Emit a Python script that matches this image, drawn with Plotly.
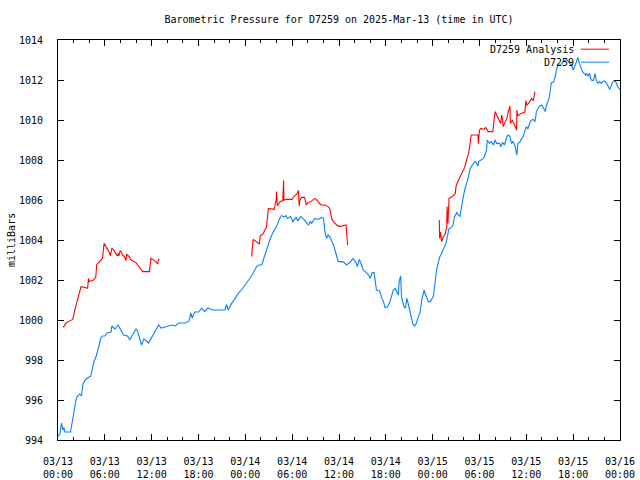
import pandas as pd
import plotly.graph_objects as go

# ---- data (hours after 2025-03-13 00:00 UTC, pressure in mb) ----
base_time = "2025-03-13 00:00"

obs_hours = [0.0, 0.25, 0.45, 0.6, 0.75, 0.9, 1.6, 1.8, 2.0, 2.3, 2.5, 2.8, 3.0, 3.2, 3.6, 4.0, 4.2, 4.45, 4.6, 4.9,
             5.3, 5.5, 5.7, 6.0, 6.3, 6.8, 6.9, 7.3, 7.7, 7.9, 8.4, 8.9, 9.2, 9.6, 10.0, 10.2, 10.4, 10.7, 11.0, 11.2,
             11.6, 12.1, 12.5, 12.9, 13.2, 13.8, 14.3, 14.6, 15.0, 15.5, 16.3, 16.8, 17.0, 17.2, 17.5, 18.0, 18.4, 18.8,
             19.2, 19.8, 21.4, 21.6, 21.8, 22.25, 22.7, 23.1, 23.5, 24.0, 24.4, 24.8, 25.0, 25.45, 25.7, 26.1, 26.3,
             26.7, 27.2, 27.6, 28.0, 28.4, 28.6, 29.0, 29.2, 29.4, 29.8, 30.1, 30.5, 30.7, 30.9, 31.1, 31.5, 32.1,
             32.3, 32.5, 32.9, 33.3, 33.8, 34.0, 34.2, 34.4, 34.6, 34.8, 35.3, 35.7, 35.9, 36.5, 37.0, 37.2, 37.4,
             37.8, 38.2, 38.35, 38.6, 38.9, 39.1, 39.5, 39.8, 40.0, 40.25, 40.5, 40.6, 40.8, 41.0, 41.2, 41.5, 41.7,
             41.9, 42.2, 42.5, 42.7, 42.96, 43.2, 43.4, 43.6, 43.7, 43.9, 44.0, 44.3, 44.5, 44.7, 44.9, 45.1, 45.3,
             45.5, 45.7, 45.9, 46.1, 46.4, 46.6, 46.9, 47.1, 47.45, 47.7, 47.9, 48.1, 48.3, 48.5, 48.7, 48.9, 49.1,
             49.4, 49.7, 49.9, 50.1, 50.3, 50.6, 50.8, 51.1, 51.3, 51.5, 51.7, 51.9, 52.1, 52.35, 52.6, 52.8, 53.0,
             53.2, 53.4, 53.6, 53.8, 53.9, 54.3, 54.5, 54.7, 54.9, 55.0, 55.3, 55.5, 55.8, 56.0, 56.2, 56.6, 56.7,
             57.0, 57.2, 57.5, 57.7, 57.9, 58.1, 58.3, 58.5, 58.7, 58.8, 58.9, 59.2, 59.4, 59.6, 59.8, 60.0, 60.2,
             60.5, 60.7, 60.9, 61.1, 61.3, 61.5, 61.7, 62.0, 62.2, 62.4, 62.6, 62.9, 63.05, 63.2, 63.5, 63.7, 63.9,
             64.1, 64.4, 64.7, 65.2, 65.5, 65.8, 66.0, 66.2, 66.4, 66.6, 66.8, 67.0, 67.2, 67.4, 67.6, 67.7, 67.9,
             68.1, 68.3, 68.6, 68.8, 69.0, 69.2, 69.4, 69.6, 69.8, 70.0, 70.3, 70.5, 70.7, 70.9, 71.1, 71.3, 71.5,
             71.7, 72.0]
obs_mb = [994.2, 994.3, 994.85, 994.55, 994.6, 994.4, 994.4, 994.8, 995.3, 996.0, 996.2, 996.3, 996.2, 996.8, 997.05,
          997.15, 997.2, 997.65, 997.9, 998.2, 998.85, 999.1, 999.2, 999.2, 999.35, 999.4, 999.7, 999.55, 999.75,
          999.6, 999.25, 999.2, 999.0, 999.3, 999.55, 999.45, 999.2, 998.75, 999.05, 999.0, 998.85, 999.2, 999.5,
          999.75, 999.6, 999.65, 999.7, 999.75, 999.7, 999.85, 999.85, 999.95, 1000.35, 1000.1, 1000.4, 1000.4,
          1000.58, 1000.42, 1000.6, 1000.5, 1000.5, 1000.78, 1000.5, 1000.83, 1001.08, 1001.33, 1001.5, 1001.75,
          1001.95, 1002.2, 1002.35, 1002.67, 1002.75, 1002.75, 1003.0, 1003.5, 1004.08, 1004.42, 1004.67, 1005.08,
          1005.22, 1005.15, 1005.22, 1005.08, 1005.17, 1004.92, 1005.13, 1004.97, 1005.08, 1005.17, 1005.03,
          1004.75, 1004.92, 1004.83, 1005.08, 1005.03, 1005.13, 1005.08, 1004.42, 1004.08, 1004.25, 1004.17,
          1003.75, 1003.25, 1002.92, 1002.92, 1002.75, 1002.83, 1002.87, 1003.08, 1002.85, 1002.67, 1003.03,
          1002.75, 1002.5, 1002.37, 1002.25, 1002.08, 1002.37, 1002.37, 1002.0, 1001.5, 1001.47, 1001.45, 1001.08,
          1000.92, 1000.62, 1000.65, 1000.87, 1001.13, 1001.5, 1001.58, 1001.37, 1001.25, 1001.92, 1002.2, 1001.17,
          1000.7, 1000.58, 1001.08, 1000.75, 1000.42, 1000.0, 999.75, 999.7, 999.83, 1000.08, 1000.42, 1001.0,
          1001.5, 1001.25, 1000.92, 1000.92, 1001.08, 1001.2, 1001.83, 1002.5, 1002.83, 1003.15, 1003.3, 1003.58,
          1003.83, 1004.2, 1004.58, 1004.6, 1004.75, 1005.17, 1005.37, 1005.25, 1005.17, 1005.67, 1006.17, 1006.5,
          1006.83, 1007.17, 1007.58, 1007.7, 1007.83, 1007.92, 1007.87, 1007.7, 1007.92, 1008.0, 1008.08, 1008.25,
          1008.5, 1009.0, 1008.83, 1008.92, 1008.75, 1009.0, 1008.83, 1008.83, 1008.67, 1008.87, 1008.75, 1009.17,
          1009.25, 1009.17, 1008.83, 1008.92, 1008.75, 1008.42, 1008.25, 1008.8, 1008.92, 1009.08, 1009.17,
          1009.42, 1009.67, 1009.55, 1009.92, 1010.0, 1010.03, 1009.92, 1010.42, 1010.58, 1010.7, 1010.75, 1010.55,
          1010.42, 1010.75, 1011.08, 1011.42, 1011.87, 1011.9, 1012.17, 1012.58, 1012.75, 1012.75, 1012.92,
          1013.03, 1012.85, 1012.75, 1012.5, 1012.67, 1012.92, 1013.13, 1012.83, 1012.58, 1012.42, 1012.33,
          1012.25, 1012.33, 1012.2, 1012.33, 1012.0, 1011.97, 1012.33, 1011.92, 1011.83, 1011.92, 1011.83,
          1011.92, 1011.95, 1011.83, 1011.63, 1011.53, 1011.75, 1011.92, 1011.97, 1011.87, 1011.67, 1011.53]

ana_hours_1 = [0.68, 1.0, 1.3, 1.67, 1.9, 2.1, 2.3, 2.5, 2.75, 2.95, 3.2, 3.6, 3.8, 3.9, 4.0, 4.4, 4.65, 4.85, 4.95,
               5.2, 5.5, 5.7, 5.9, 6.1, 6.4, 6.6, 6.7, 6.9, 7.1, 7.3, 7.6, 7.7, 7.8, 7.95, 8.15, 8.25, 8.5, 8.7, 8.8,
               9.1, 9.35, 9.6, 9.8, 10.0, 10.2, 10.4, 10.6, 10.85, 11.3, 11.7, 11.9, 12.1, 12.55, 12.75, 12.9, 13.0]
ana_mb_1 = [999.63, 999.83, 999.92, 999.97, 1000.03, 1000.42, 1000.75, 1001.08, 1001.42, 1001.67, 1001.65, 1001.6,
            1001.58, 1002.08, 1001.92, 1001.97, 1002.03, 1002.17, 1002.75, 1002.87, 1002.97, 1003.08, 1003.83,
            1003.7, 1003.53, 1003.37, 1003.2, 1003.58, 1003.53, 1003.42, 1003.2, 1003.33, 1003.2, 1003.47, 1003.37,
            1003.25, 1003.17, 1002.97, 1003.3, 1003.17, 1003.0, 1002.95, 1002.92, 1002.87, 1002.75, 1002.63,
            1002.53, 1002.42, 1002.42, 1002.42, 1003.08, 1003.03, 1002.92, 1002.8, 1003.03, 1003.03]

ana_hours_2 = [24.8, 24.95, 25.0, 25.4, 25.8, 25.9, 26.3, 26.5, 26.7, 26.95, 27.4, 27.7, 27.85, 27.95, 28.0, 28.1,
               28.4, 28.8, 28.9, 28.95, 29.3, 30.0, 30.2, 30.6, 30.8, 30.9, 31.0, 31.2, 31.6, 31.8, 32.0, 32.4, 32.9,
               33.1, 33.5, 33.7, 34.2, 34.6, 34.8, 35.1, 35.3, 35.7, 36.1, 36.5, 36.9, 37.0, 37.1]
ana_mb_2 = [1003.17, 1003.75, 1004.03, 1003.92, 1003.8, 1004.2, 1004.33, 1004.5, 1004.63, 1005.58, 1005.53,
            1005.53, 1005.83, 1006.0, 1006.42, 1005.7, 1005.9, 1005.97, 1006.97, 1006.0, 1006.03, 1006.03, 1006.17,
            1006.3, 1006.47, 1005.7, 1006.0, 1006.13, 1006.13, 1005.75, 1005.87, 1005.92, 1006.08, 1006.03,
            1005.83, 1005.75, 1005.75, 1005.67, 1005.58, 1005.03, 1004.92, 1004.75, 1004.67, 1004.7, 1004.75,
            1004.25, 1003.75]

ana_hours_3 = [48.85, 48.9, 49.0, 49.15, 49.35, 49.6, 49.8, 49.85, 49.95, 50.1, 50.4, 50.6, 50.9, 51.0, 51.3, 51.5,
               51.7, 51.9, 52.1, 52.35, 52.6, 52.8, 52.85, 53.0, 53.4, 53.8, 53.85, 54.0, 54.2, 54.6, 54.8, 55.1,
               55.7, 55.8, 56.0, 56.3, 56.5, 56.7, 56.85, 57.05, 57.3, 57.5, 57.7, 57.9, 57.95, 58.2, 58.4, 58.75,
               58.8, 58.9, 59.3, 59.8, 59.95, 60.05, 60.3, 60.5, 60.7, 60.9, 61.0, 61.1]
ana_mb_3 = [1005.0, 1004.08, 1004.4, 1003.92, 1004.15, 1004.3, 1004.67, 1005.67, 1004.83, 1006.08, 1006.15, 1006.2,
            1006.33, 1006.7, 1007.0, 1007.17, 1007.33, 1007.5, 1007.63, 1008.0, 1008.33, 1008.83, 1009.08, 1009.25,
            1009.25, 1009.25, 1008.83, 1009.5, 1009.58, 1009.53, 1009.63, 1009.42, 1009.42, 1009.87, 1010.42,
            1010.17, 1010.0, 1009.83, 1010.25, 1009.67, 1009.92, 1010.08, 1010.42, 1010.7, 1009.83, 1010.0,
            1009.83, 1009.5, 1010.5, 1010.2, 1010.33, 1010.38, 1010.97, 1010.75, 1010.83, 1010.97, 1011.08,
            1010.97, 1011.25, 1011.42]

title_text = "Barometric Pressure for D7259 on 2025-Mar-13 (time in UTC)"
y_title = "milliBars"
obs_name = "D7259"
ana_name = "D7259 Analysis"

# ---- build ----
t0 = pd.Timestamp(base_time)


def to_time(hours):
    return [t0 + pd.Timedelta(hours=h) for h in hours]


ana_x = to_time(ana_hours_1) + [None] + to_time(ana_hours_2) + [None] + to_time(ana_hours_3)
ana_y = ana_mb_1 + [None] + ana_mb_2 + [None] + ana_mb_3

RED = "#ff0000"
BLUE = "#0a80ff"
FONT = "DejaVu Sans Mono"

fig = go.Figure()
fig.add_trace(go.Scatter(x=ana_x, y=ana_y, mode="lines", name=ana_name,
                         line=dict(color=RED, width=1.1), connectgaps=False, showlegend=False))
fig.add_trace(go.Scatter(x=to_time(obs_hours), y=obs_mb, mode="lines", name=obs_name,
                         line=dict(color=BLUE, width=1.1), showlegend=False))

# gnuplot-style key: text at left, line sample at right
for i, (name, col) in enumerate([(ana_name, RED), (obs_name, BLUE)]):
    yk = 0.977 - i * 0.0325
    fig.add_annotation(xref="paper", yref="paper", x=0.921, y=yk, text=name, showarrow=False,
                       xanchor="right", yanchor="middle", font=dict(family=FONT, size=10, color="black"))
    fig.add_shape(type="line", xref="paper", yref="paper", x0=0.9306, x1=0.9804, y0=yk, y1=yk,
                  line=dict(color=col, width=1))

# y-axis title placed like gnuplot's ylabel
fig.add_annotation(xref="paper", yref="paper", x=(11 - 58) / 562, y=0.5, text=y_title, showarrow=False,
                   textangle=-90, xanchor="center", yanchor="middle",
                   font=dict(family=FONT, size=10, color="black"))

fig.update_layout(
    width=640, height=480,
    margin=dict(l=58, r=20, t=40, b=40, autoexpand=False),
    paper_bgcolor="white", plot_bgcolor="white",
    font=dict(family=FONT, size=10, color="black"),
    title=dict(text=title_text, x=0.5, xref="paper", xanchor="center",
               y=1 - 19 / 480, yref="container", yanchor="middle",
               font=dict(family=FONT, size=10, color="black")),
    showlegend=False,
    hovermode=False,
)
fig.update_xaxes(
    type="date", automargin=False,
    range=[t0, t0 + pd.Timedelta(hours=72)],
    tick0=t0, dtick=6 * 3600 * 1000, tickformat="%m/%d<br>%H:%M",
    ticks="inside", ticklen=6, tickcolor="black", tickwidth=1,
    minor=dict(dtick=2 * 3600 * 1000, ticks="inside", ticklen=3, tickcolor="black", tickwidth=1),
    showline=True, linecolor="black", linewidth=1, mirror="ticks",
    showgrid=False, zeroline=False,
    ticklabelstandoff=12,
    tickfont=dict(family=FONT, size=10, color="black"),
)
fig.update_yaxes(
    range=[994, 1014], dtick=2, tick0=994, automargin=False,
    ticks="inside", ticklen=6, tickcolor="black", tickwidth=1,
    showline=True, linecolor="black", linewidth=1, mirror="ticks",
    showgrid=False, zeroline=False,
    ticklabelstandoff=12,
    tickfont=dict(family=FONT, size=10, color="black"),
)

fig.write_html("out.html", config={"displayModeBar": False, "staticPlot": True},
               post_script="document.body.style.margin='0';document.body.style.overflow='hidden';")
